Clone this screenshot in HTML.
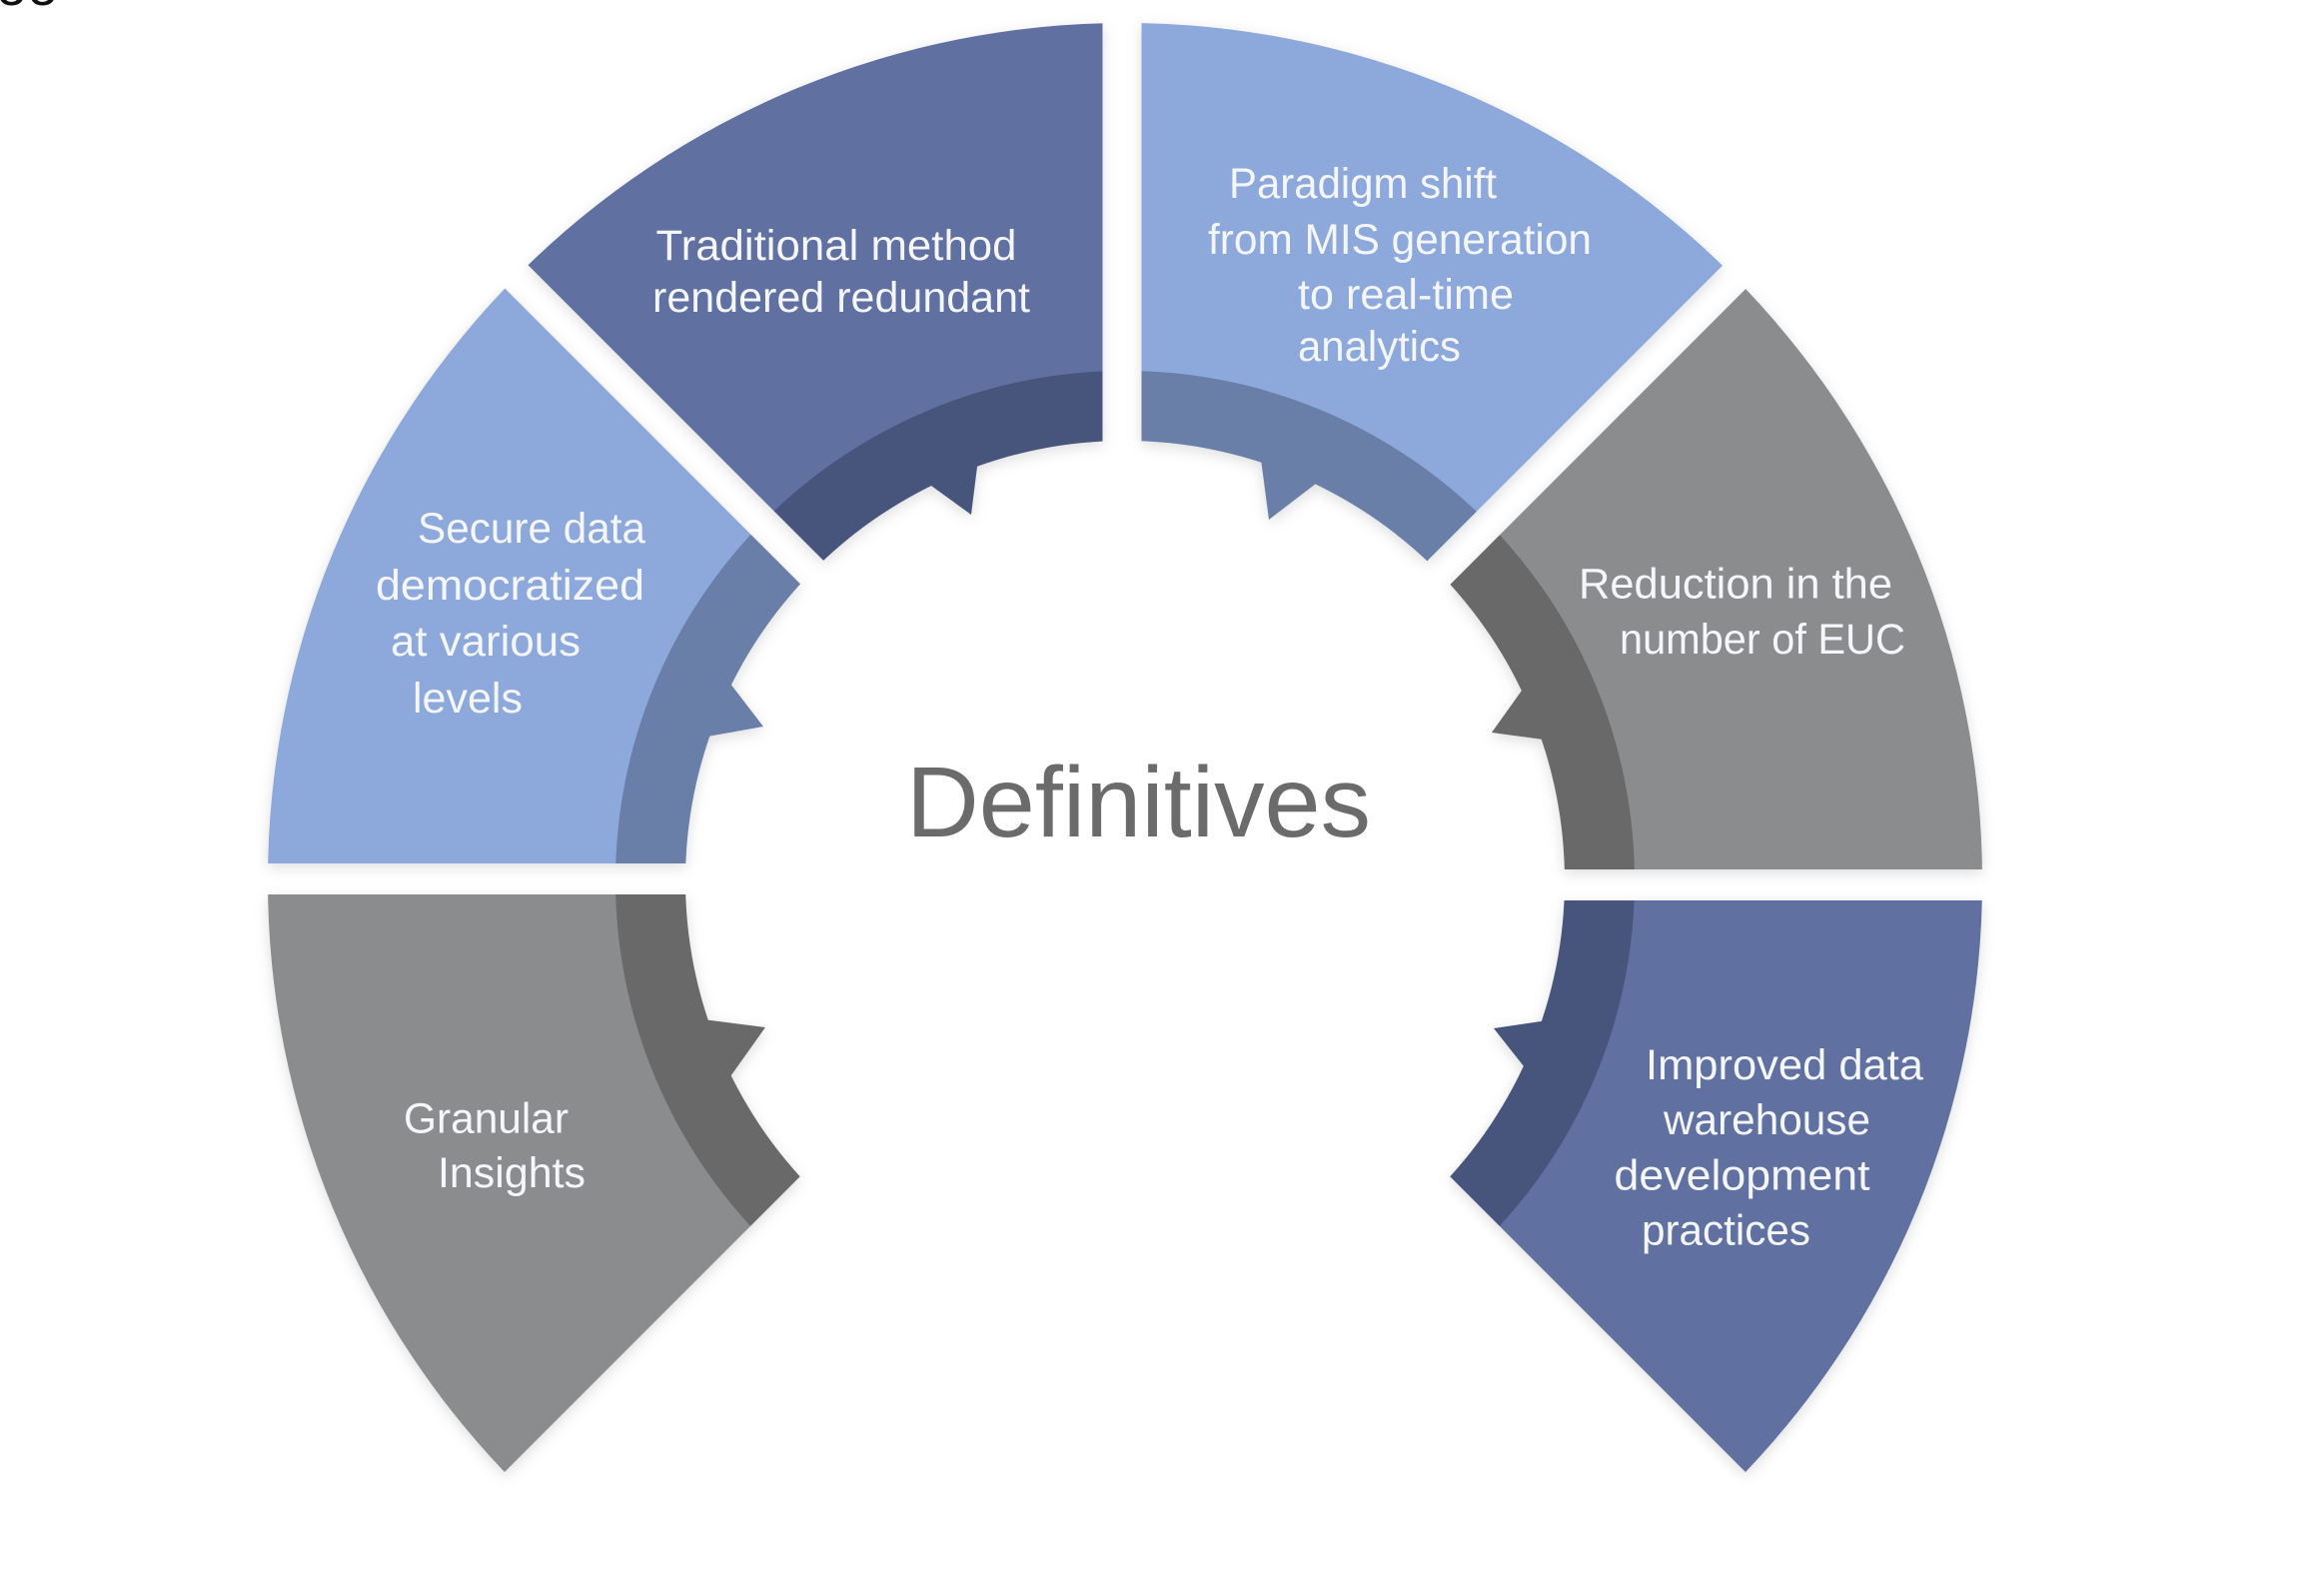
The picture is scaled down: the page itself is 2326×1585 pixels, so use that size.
<!DOCTYPE html>
<html>
<head>
<meta charset="utf-8">
<style>
  html, body { margin: 0; padding: 0; background: #ffffff; overflow: hidden; }
  svg { display: block; }
  .lbl { font-family: "Liberation Sans", "DejaVu Sans", sans-serif; font-size: 43px; fill: #f4f6fb; }
</style>
</head>
<body>
<svg width="2326" height="1585" viewBox="0 0 2326 1585" xmlns="http://www.w3.org/2000/svg">
  <defs>
    <filter id="sh" x="-10%" y="-10%" width="120%" height="120%">
      <feDropShadow dx="0" dy="4" stdDeviation="7" flood-color="#000" flood-opacity="0.13"/>
    </filter>
    <mask id="m" maskUnits="userSpaceOnUse" x="0" y="0" width="2326" height="1585">
      <rect x="0" y="0" width="2326" height="1585" fill="#fff"/>
      <circle cx="1126" cy="881" r="440" fill="#000"/>
      <!-- teeth -->
      <polygon points="979.8,452.6 972,515 920,477.3" fill="#fff"/>
      <polygon points="1260.9,451.1 1270,520 1325.9,477.1" fill="#fff"/>
      <polygon points="721.1,671.1 764,727 691.2,740" fill="#fff"/>
      <polygon points="1532,678.4 1493,733 1560.6,742.1" fill="#fff"/>
      <polygon points="694.5,1018.9 766,1028 724.4,1086.5" fill="#fff"/>
      <polygon points="1565.2,1018.6 1495,1029 1539.2,1084.9" fill="#fff"/>
      <!-- gaps -->
      <rect x="1103.5" y="-20" width="39" height="910" fill="#000"/>
      <rect x="150" y="864" width="980" height="31" fill="#000"/>
      <rect x="1122" y="870" width="1000" height="31" fill="#000"/>
      <polygon points="1130,913.3 350,133.3 350,86.7 1130,866.7" fill="#000"/>
      <polygon points="1120,869.7 1900,89.7 1900,136.3 1120,916.3" fill="#000"/>
      <polygon points="1126,852 400,1578 1126,1620" fill="#000"/>
      <polygon points="1126,852 1126,1620 1894,1620" fill="#000"/>
    </mask>
  </defs>

  <g filter="url(#sh)">
    <g mask="url(#m)">
      <!-- outer light wedges -->
      <path d="M1126,881 L1732.7,1487.7 A858,858 0 0 0 1984,881 Z" fill="#5e6fa1"/>
      <path d="M1126,881 L1984,881 A858,858 0 0 0 1732.7,274.3 Z" fill="#8b8c8e"/>
      <path d="M1126,881 L1732.7,274.3 A858,858 0 0 0 1126,23 Z" fill="#8da8da"/>
      <path d="M1126,881 L1126,23 A858,858 0 0 0 519.3,274.3 Z" fill="#5e6fa1"/>
      <path d="M1126,881 L519.3,274.3 A858,858 0 0 0 268,881 Z" fill="#8da8da"/>
      <path d="M1126,881 L268,881 A858,858 0 0 0 519.3,1487.7 Z" fill="#8b8c8e"/>
      <!-- inner dark bands -->
      <path d="M1126,881 L1486.6,1241.6 A510,510 0 0 0 1636,881 Z" fill="#46557d"/>
      <path d="M1126,881 L1636,881 A510,510 0 0 0 1486.6,520.4 Z" fill="#69696b"/>
      <path d="M1126,881 L1486.6,520.4 A510,510 0 0 0 1126,371 Z" fill="#6a7fa7"/>
      <path d="M1126,881 L1126,371 A510,510 0 0 0 765.4,520.4 Z" fill="#46557d"/>
      <path d="M1126,881 L765.4,520.4 A510,510 0 0 0 616,881 Z" fill="#6a7fa7"/>
      <path d="M1126,881 L616,881 A510,510 0 0 0 765.4,1241.6 Z" fill="#69696b"/>
    </g>
  </g>

  <!-- top-left artifact -->
  <text x="-4" y="5" font-family="Liberation Sans, sans-serif" font-size="56" fill="#111">oo</text>

  <!-- Traditional -->
  <text class="lbl" x="656.5" y="260" textLength="361" lengthAdjust="spacingAndGlyphs">Traditional method</text>
  <text class="lbl" x="653" y="312" textLength="378" lengthAdjust="spacingAndGlyphs">rendered redundant</text>

  <!-- Paradigm -->
  <text class="lbl" x="1230" y="198" textLength="268" lengthAdjust="spacingAndGlyphs">Paradigm shift</text>
  <text class="lbl" x="1209" y="254" textLength="384" lengthAdjust="spacingAndGlyphs">from MIS generation</text>
  <text class="lbl" x="1299" y="309" textLength="216" lengthAdjust="spacingAndGlyphs">to real-time</text>
  <text class="lbl" x="1299" y="361" textLength="163" lengthAdjust="spacingAndGlyphs">analytics</text>

  <!-- Secure -->
  <text class="lbl" x="418" y="543" textLength="228" lengthAdjust="spacingAndGlyphs">Secure data</text>
  <text class="lbl" x="376" y="600" textLength="269" lengthAdjust="spacingAndGlyphs">democratized</text>
  <text class="lbl" x="391" y="656" textLength="190" lengthAdjust="spacingAndGlyphs">at various</text>
  <text class="lbl" x="413" y="713" textLength="110" lengthAdjust="spacingAndGlyphs">levels</text>

  <!-- Reduction -->
  <text class="lbl" x="1580" y="598.5" textLength="314" lengthAdjust="spacingAndGlyphs">Reduction in the</text>
  <text class="lbl" x="1621" y="654" textLength="286" lengthAdjust="spacingAndGlyphs">number of EUC</text>

  <!-- Granular -->
  <text class="lbl" x="404" y="1133.5" textLength="165" lengthAdjust="spacingAndGlyphs">Granular</text>
  <text class="lbl" x="438" y="1188" textLength="148" lengthAdjust="spacingAndGlyphs">Insights</text>

  <!-- Improved -->
  <text class="lbl" x="1647" y="1080" textLength="278" lengthAdjust="spacingAndGlyphs">Improved data</text>
  <text class="lbl" x="1665" y="1135" textLength="207" lengthAdjust="spacingAndGlyphs">warehouse</text>
  <text class="lbl" x="1615.5" y="1190.5" textLength="256" lengthAdjust="spacingAndGlyphs">development</text>
  <text class="lbl" x="1643" y="1245.5" textLength="169" lengthAdjust="spacingAndGlyphs">practices</text>

  <!-- Center title -->
  <text x="907" y="837" font-family="Liberation Sans, sans-serif" font-size="100" fill="#6b6b6b" textLength="465" lengthAdjust="spacingAndGlyphs">Definitives</text>
</svg>
</body>
</html>
